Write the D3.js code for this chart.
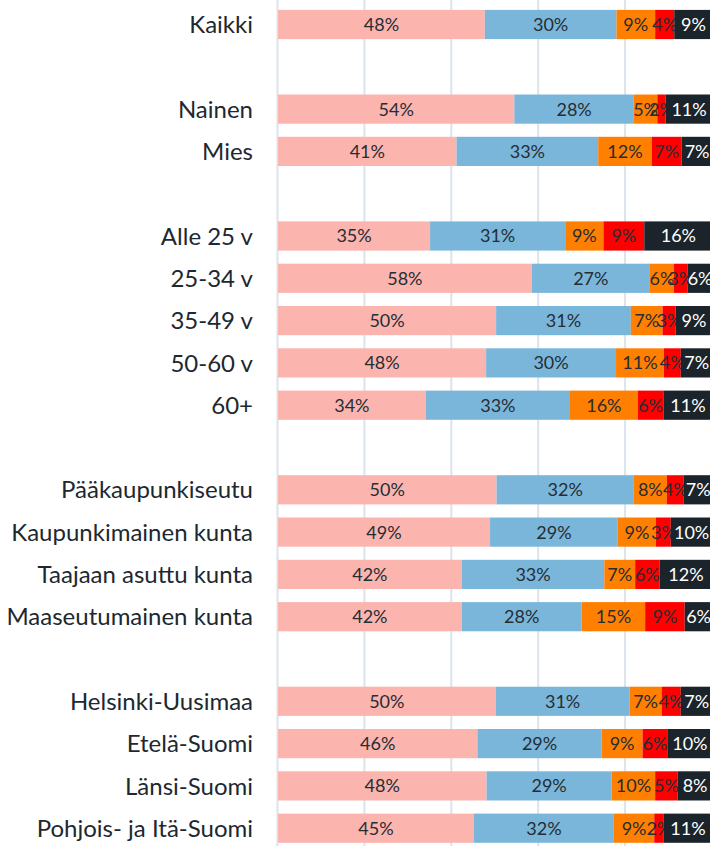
<!DOCTYPE html>
<html>
<head>
<meta charset="utf-8">
<script src="https://cdn.jsdelivr.net/npm/d3@7"></script>
<style>
  body { margin: 0; background: #fff; }
  svg { display: block; font-family: Lato, "Noto Sans", sans-serif; }
</style>
</head>
<body>
<div id="chart"></div>
<script>
// rows, blank names = empty spacer rows between groups
const categories = [
    'Kaikki', '',
    'Nainen', 'Mies', ' ',
    'Alle 25 v', '25-34 v', '35-49 v', '50-60 v', '60+', '  ',
    'Pääkaupunkiseutu', 'Kaupunkimainen kunta', 'Taajaan asuttu kunta', 'Maaseutumainen kunta', '   ',
    'Helsinki-Uusimaa', 'Etelä-Suomi', 'Länsi-Suomi', 'Pohjois- ja Itä-Suomi'
];

const seriesKeys = ['s1', 's2', 's3', 's4', 's5'];
const seriesColors = ['#fbb4ae', '#7ab6da', '#ff7f00', '#ff0000', '#1b242b'];

// shares per row in percent, same order as the non-empty categories
const s1 = [47.6, 54.4, 41.1, 35.0, 58.4, 50.2, 47.9, 34.0, 50.3, 48.8, 42.3, 42.3, 50.1, 45.9, 48.0, 45.1];
const s2 = [30.3, 27.5, 32.6, 31.1, 27.2, 31.0, 29.9, 33.2, 31.6, 29.4, 32.8, 27.6, 30.8, 28.6, 28.8, 32.2];
const s3 = [ 8.9,  5.4, 12.3,  8.8,  5.5,  7.3, 11.0, 15.6,  7.6,  8.8,  7.1, 14.6,  7.4,  9.4, 10.0,  9.3];
const s4 = [ 4.4,  1.9,  6.9,  9.4,  3.2,  3.0,  3.9,  5.9,  3.9,  3.4,  5.6,  9.1,  4.4,  5.7,  5.2,  2.1];
const s5 = [ 8.8, 10.8,  7.1, 15.7,  5.7,  8.5,  7.3, 11.3,  6.6,  9.6, 12.2,  6.4,  7.3, 10.4,  8.0, 11.3];

const gridTicks = [0, 20, 40, 60, 80, 100];

const width = 710;
const height = 846;
const marginLeft = 278;
const step = 42.3;
const marginTop = 24.5 - step / 2;

const rows = categories.filter(c => c.trim() !== '').map((name, i) => ({
    name: name, s1: s1[i], s2: s2[i], s3: s3[i], s4: s4[i], s5: s5[i]
}));

const svg = d3.select('#chart')
    .append('svg')
    .attr('width', width)
    .attr('height', height);

const x = d3.scaleLinear()
    .domain([0, 100])
    .range([marginLeft, marginLeft + 434.5]);

const y = d3.scaleBand()
    .domain(categories)
    .range([marginTop, marginTop + step * categories.length])
    .paddingInner(0.31)
    .paddingOuter(0.155);

// vertical gridlines behind the bars
svg.append('g')
    .selectAll('line')
    .data(gridTicks)
    .enter()
    .append('line')
    .attr('x1', d => x(d) - 0.5)
    .attr('x2', d => x(d) - 0.5)
    .attr('y1', 0)
    .attr('y2', height)
    .attr('stroke', '#dbe3ec')
    .attr('stroke-width', 2);

const stack = d3.stack().keys(seriesKeys);
const layers = stack(rows);

const layer = svg.append('g')
    .selectAll('g')
    .data(layers)
    .enter()
    .append('g')
    .attr('fill', (d, i) => seriesColors[i]);

layer.selectAll('rect')
    .data(d => d)
    .enter()
    .append('rect')
    .attr('x', d => x(d[0]))
    .attr('y', d => y(d.data.name))
    .attr('width', d => x(d[1]) - x(d[0]))
    .attr('height', y.bandwidth());

// percent labels in the middle of each segment
layer.selectAll('text')
    .data((d, i) => d.map(v => ({ v: v, i: i })))
    .enter()
    .append('text')
    .attr('x', d => (x(d.v[0]) + x(d.v[1])) / 2)
    .attr('y', d => y(d.v.data.name) + y.bandwidth() / 2)
    .attr('dy', '0.36em')
    .attr('text-anchor', 'middle')
    .attr('font-size', 18)
    .attr('fill', d => d.i === 4 ? '#ffffff' : '#262d34')
    .text(d => Math.round(d.v[1] - d.v[0]) + '%');

// row labels
svg.append('g')
    .selectAll('text')
    .data(rows)
    .enter()
    .append('text')
    .attr('x', 253)
    .attr('y', d => y(d.name) + y.bandwidth() / 2)
    .attr('dy', '0.36em')
    .attr('text-anchor', 'end')
    .attr('font-size', 24)
    .attr('fill', '#1d2830')
    .text(d => d.name);
</script>
</body>
</html>
